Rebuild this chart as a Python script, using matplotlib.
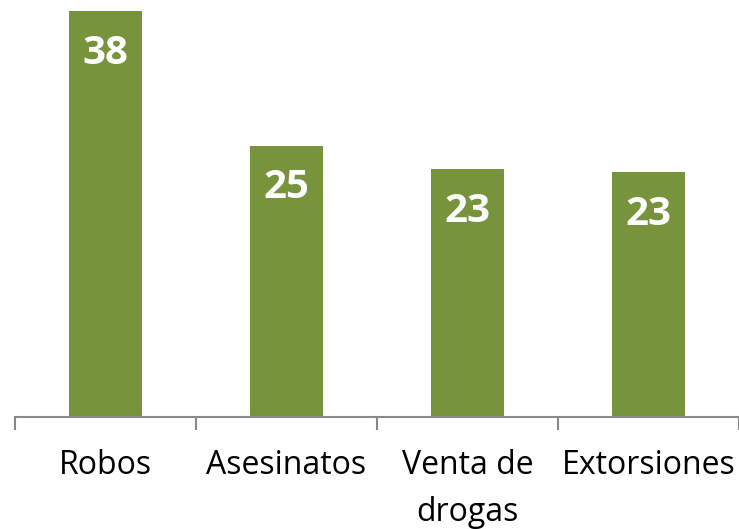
import numpy as np
import matplotlib.pyplot as plt

categorias = ["Robos", "Asesinatos", "Venta de\ndrogas", "Extorsiones"]
valores = [38.0, 25.4, 23.2, 22.9]

verde = "#77933c"
gris = "#898989"

plt.rcParams['font.family'] = ['Open Sans', 'DejaVu Sans']

fig = plt.figure(figsize=(7.39, 5.29), dpi=100)
ax = fig.add_axes([15/739, 1 - 417/529, 1 - 15/739, (417 - 11)/529])

x = np.arange(len(categorias))
barras = ax.bar(x, valores, width=0.4, color=verde, zorder=2)

# etiquetas de valor dentro de cada barra
for xi, v in zip(x, valores):
    ax.annotate(f"{v:.0f}", xy=(xi, v), xytext=(0, -30.5), textcoords="offset points",
                ha="center", va="center", color="white", fontsize=29, fontweight="bold")

ax.set_xlim(-0.5, len(categorias) - 0.5)
ax.set_ylim(0, max(valores))

for s in ["top", "right", "left"]:
    ax.spines[s].set_visible(False)
ax.spines["bottom"].set_color(gris)
ax.spines["bottom"].set_linewidth(1.5)
ax.set_yticks([])

ax.set_xticks(x)
ax.set_xticklabels(categorias, fontsize=23, linespacing=1.55, va="top")
ax.tick_params(axis="x", which="major", length=0, pad=23)
ax.set_xticks(np.arange(-0.5, len(categorias)), minor=True)
ax.tick_params(axis="x", which="minor", length=9, width=1.5, color=gris)

fig.savefig("out.png", dpi=100)
